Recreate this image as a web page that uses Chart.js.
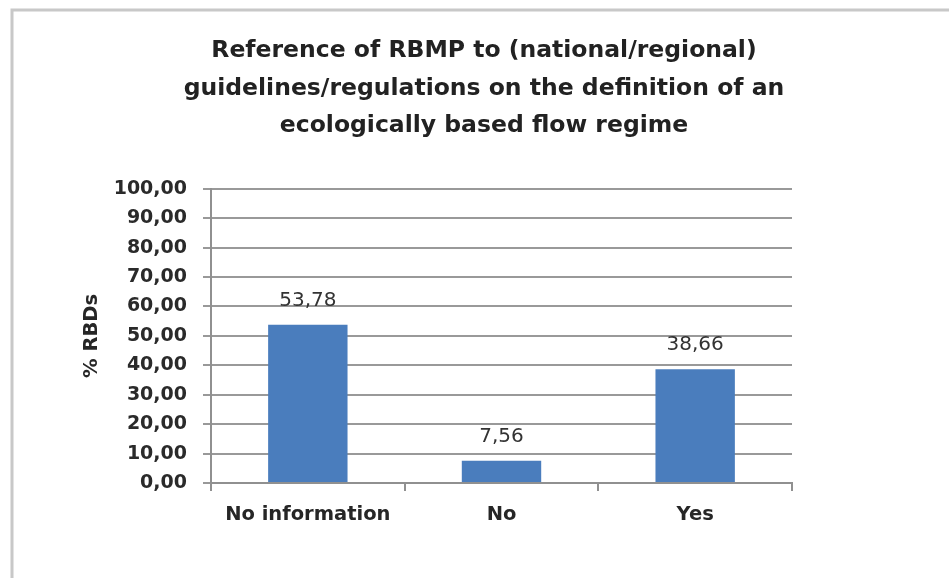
<!DOCTYPE html>
<html>
<head>
<meta charset="utf-8">
<script src="https://cdn.jsdelivr.net/npm/chart.js@4.4.1/dist/chart.umd.min.js"></script>
<style>
  html, body { margin: 0; padding: 0; background: #ffffff; }
  #wrap { position: relative; width: 949px; height: 578px; }
</style>
</head>
<body>
<div id="wrap"><canvas id="c" width="949" height="578"></canvas></div>
<script>
const titleLines = [
  "Reference of RBMP to (national/regional)",
  "guidelines/regulations on the definition of an",
  "ecologically based flow regime"
];
const categories = ["No information", "No", "Yes"];
const values = [53.78, 7.56, 38.66];
const yAxisTitle = "% RBDs";
const yMin = 0;
const yMax = 100;
const yStep = 10;

const fmt = v => Number(v).toFixed(2).replace('.', ',');

const frameAndLabels = {
  id: 'frameAndLabels',
  afterLayout(chart) {
    // centre the title block over the whole chart frame (as in the reference)
    const t = chart.titleBlock;
    if (t) { t.left += 88; t.right += 88; }
  },
  beforeDraw(chart) {
    const ctx = chart.ctx;
    ctx.save();
    ctx.fillStyle = '#ffffff';
    ctx.fillRect(0, 0, chart.width, chart.height);
    ctx.strokeStyle = '#c8c8c8';
    ctx.lineWidth = 3;
    ctx.beginPath();
    ctx.moveTo(12, chart.height);
    ctx.lineTo(12, 10);
    ctx.lineTo(chart.width, 10);
    ctx.stroke();
    ctx.restore();
  },
  afterDatasetsDraw(chart) {
    const ctx = chart.ctx;
    const meta = chart.getDatasetMeta(0);
    ctx.save();
    ctx.font = '20px "DejaVu Sans"';
    ctx.fillStyle = '#333333';
    ctx.textAlign = 'center';
    ctx.textBaseline = 'middle';
    meta.data.forEach((bar, i) => {
      ctx.fillText(fmt(chart.data.datasets[0].data[i]), bar.x, bar.y - 24);
    });
    ctx.restore();
  }
};

new Chart(document.getElementById('c'), {
  type: 'bar',
  data: {
    labels: categories,
    datasets: [{
      data: values,
      backgroundColor: '#4a7dbd',
      borderWidth: 0,
      barPercentage: 0.41,
      categoryPercentage: 1.0
    }]
  },
  options: {
    responsive: false,
    animation: false,
    layout: { padding: { left: 0, right: 157, top: 13, bottom: 0 } },
    plugins: {
      legend: { display: false },
      tooltip: { enabled: false },
      title: {
        display: true,
        text: titleLines,
        color: '#222222',
        font: { family: '"DejaVu Sans"', size: 23.5, weight: 'bold', lineHeight: 1.6 },
        padding: { top: 19, bottom: 44 }
      }
    },
    scales: {
      x: {
        grid: {
          drawOnChartArea: false,
          drawTicks: true,
          tickLength: 8,
          color: '#909090',
          lineWidth: 2
        },
        border: { color: '#909090', width: 2 },
        ticks: {
          color: '#262626',
          font: { family: '"DejaVu Sans"', size: 19.5, weight: 'bold', lineHeight: 1.2 },
          padding: 12
        },
        afterFit(scale) { scale.height = 95; }
      },
      y: {
        min: yMin,
        max: yMax,
        grid: {
          color: '#999999',
          lineWidth: 2,
          tickLength: 8
        },
        border: { color: '#909090', width: 2 },
        ticks: {
          stepSize: yStep,
          autoSkip: false,
          color: '#2a2a2a',
          font: { family: '"DejaVu Sans"', size: 19, weight: 'bold' },
          padding: 16,
          callback: v => fmt(v)
        },
        title: {
          display: true,
          text: yAxisTitle,
          color: '#262626',
          font: { family: '"DejaVu Sans"', size: 19.5, weight: 'bold', lineHeight: 1.2 },
          padding: { top: 80, bottom: 0 }
        },
        afterFit(scale) { scale.width = 211; }
      }
    }
  },
  plugins: [frameAndLabels]
});
</script>
</body>
</html>
